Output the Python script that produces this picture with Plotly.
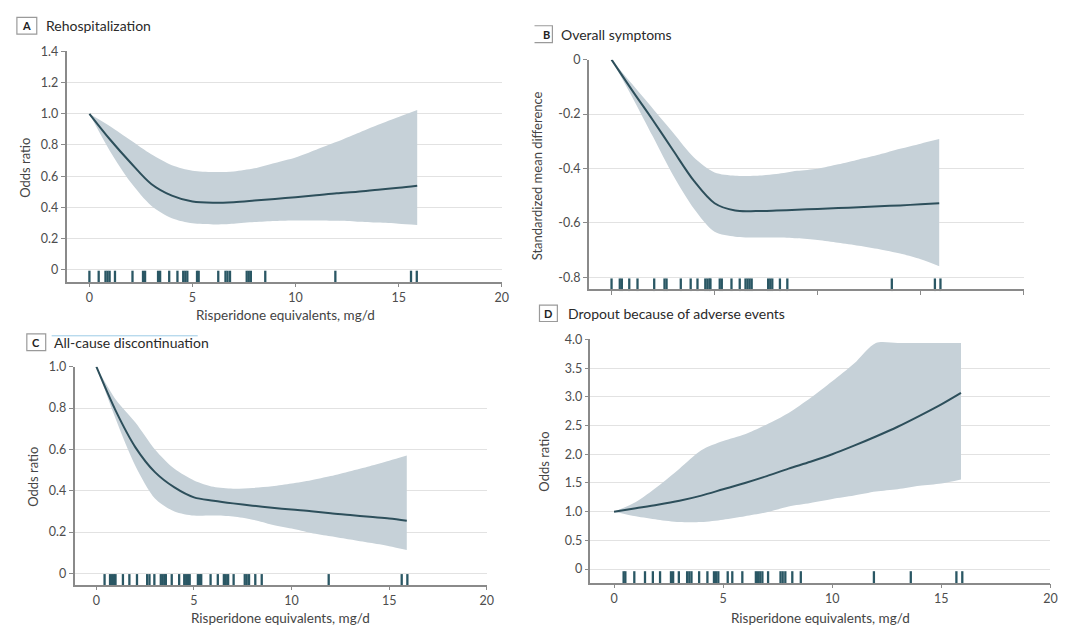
import plotly.graph_objects as go

W, H = 1080, 634

# ---------------- data ----------------
dose = [0, 1, 2, 3, 4, 5, 6, 7, 8, 9, 10, 11, 12, 13, 14, 15, 15.9]

rehosp_or = [1.0, 0.835, 0.686, 0.55, 0.475, 0.437, 0.429, 0.433, 0.443, 0.454, 0.465, 0.477, 0.49, 0.50, 0.513, 0.525, 0.538]
rehosp_hi = [1.0, 0.92, 0.83, 0.74, 0.67, 0.635, 0.627, 0.63, 0.65, 0.685, 0.72, 0.77, 0.82, 0.875, 0.93, 0.98, 1.025]
rehosp_lo = [1.0, 0.76, 0.56, 0.41, 0.33, 0.297, 0.29, 0.295, 0.305, 0.312, 0.315, 0.315, 0.313, 0.308, 0.302, 0.295, 0.287]

symp_smd = [0, -0.113, -0.222, -0.335, -0.446, -0.528, -0.555, -0.557, -0.555, -0.552, -0.549, -0.546, -0.543, -0.539, -0.536, -0.532, -0.528]
symp_hi = [0, -0.09, -0.18, -0.27, -0.36, -0.415, -0.427, -0.427, -0.421, -0.409, -0.401, -0.385, -0.367, -0.349, -0.328, -0.309, -0.292]
symp_lo = [0, -0.137, -0.282, -0.427, -0.548, -0.633, -0.651, -0.654, -0.654, -0.657, -0.663, -0.673, -0.684, -0.697, -0.713, -0.734, -0.760]

disc_or = [1.0, 0.785, 0.61, 0.49, 0.416, 0.368, 0.352, 0.339, 0.328, 0.318, 0.309, 0.301, 0.291, 0.283, 0.274, 0.266, 0.255]
disc_hi = [1.0, 0.84, 0.73, 0.60, 0.506, 0.45, 0.419, 0.41, 0.414, 0.422, 0.435, 0.451, 0.471, 0.495, 0.519, 0.545, 0.570]
disc_lo = [1.0, 0.745, 0.52, 0.363, 0.30, 0.28, 0.28, 0.275, 0.26, 0.236, 0.217, 0.196, 0.18, 0.164, 0.148, 0.132, 0.113]

ae_or = [1.0, 1.06, 1.12, 1.19, 1.28, 1.39, 1.50, 1.62, 1.75, 1.87, 2.0, 2.15, 2.31, 2.48, 2.67, 2.87, 3.07]
ae_hi = [1.0, 1.17, 1.44, 1.75, 2.07, 2.23, 2.35, 2.52, 2.72, 2.98, 3.27, 3.58, 3.94, 3.94, 3.94, 3.94, 3.94]
ae_lo = [1.0, 0.92, 0.86, 0.82, 0.82, 0.86, 0.92, 0.99, 1.09, 1.15, 1.22, 1.28, 1.35, 1.39, 1.45, 1.49, 1.56]

rug_A = [0, 0.45, 0.78, 0.88, 0.98, 1.24, 2.09, 2.6, 2.7, 3.33, 3.43, 3.87, 4.27, 4.55, 4.65, 4.75,
         5.22, 5.3, 6.25, 6.6, 6.7, 6.82, 7.63, 7.73, 7.83, 8.53, 11.93, 15.6, 15.88]
rug_B = [0, 0.4, 0.5, 0.86, 1.26, 2.07, 2.57, 2.67, 3.36, 3.84, 4.17, 4.55, 4.65, 4.75, 4.8, 5.25, 5.35,
         5.82, 6.22, 6.5, 6.6, 6.7, 6.8, 7.6, 7.7, 7.8, 8.17, 8.53, 13.6, 15.69, 15.96]
rug_C = [0.42, 0.7, 0.8, 0.9, 0.98, 1.36, 1.69, 2.08, 2.6, 2.72, 2.97, 3.3, 3.4, 3.5, 3.56, 3.86, 4.24,
         4.5, 4.6, 4.7, 4.78, 5.2, 5.3, 5.37, 5.85, 6.22, 6.53, 6.63, 6.75, 7.03, 7.6, 7.7, 7.82, 8.14,
         8.47, 11.9, 15.64, 15.93]
rug_D = [0.44, 0.52, 0.93, 1.42, 1.78, 2.11, 2.61, 2.71, 2.97, 3.35, 3.45, 3.55, 3.9, 4.28, 4.58, 4.68,
         4.78, 5.21, 5.42, 5.88, 6.5, 6.6, 6.7, 6.8, 7.06, 7.63, 7.73, 7.85, 8.17, 8.56, 11.91, 13.6,
         15.69, 15.96]

x_ticks = [0, 5, 10, 15, 20]
x_ticktext = ["0", "5", "10", "15", "20"]
yA_ticks = [0, 0.2, 0.4, 0.6, 0.8, 1.0, 1.2, 1.4]
yA_text = ["0", "0.2", "0.4", "0.6", "0.8", "1.0", "1.2", "1.4"]
yB_ticks = [0, -0.2, -0.4, -0.6, -0.8]
yB_text = ["0", "-0.2", "-0.4", "-0.6", "-0.8"]
yC_ticks = [0, 0.2, 0.4, 0.6, 0.8, 1.0]
yC_text = ["0", "0.2", "0.4", "0.6", "0.8", "1.0"]
yD_ticks = [0, 0.5, 1.0, 1.5, 2.0, 2.5, 3.0, 3.5, 4.0]
yD_text = ["0", "0.5", "1.0", "1.5", "2.0", "2.5", "3.0", "3.5", "4.0"]

titles = ["Rehospitalization", "Overall symptoms", "All-cause discontinuation", "Dropout because of adverse events"]
letters = ["A", "B", "C", "D"]
x_title = "Risperidone equivalents, mg/d"
y_titles = ["Odds ratio", "Standardized mean difference", "Odds ratio", "Odds ratio"]

# ---------------- style ----------------
FONT = "Lato"
LINE_C = "#2d4f5b"
BAND_C = "#c6d1d8"
RUG_C = "#2a5764"
AXIS_C = "#8a8a8a"
GRID_C = "#e2e2e2"
TICK_FONT = dict(family=FONT, size=12.5, color="#4d4d4d")


def px(x):
    return x / W


def py(y):
    return 1 - y / H


panels = [
    dict(xd=(67, 505), yd=(44, 277), xr=(-1.108, 20), yr=(-0.076, 1.4), yt=yA_ticks, ytt=yA_text,
         mean=rehosp_or, hi=rehosp_hi, lo=rehosp_lo, rug=rug_A, base=0, xlabels=True),
    dict(xd=(592.5, 1030.4), yd=(52.3, 285), xr=(-1.11, 20), yr=(-0.845, 0), yt=yB_ticks, ytt=yB_text,
         mean=symp_smd, hi=symp_hi, lo=symp_lo, rug=rug_B, base=-0.8, xlabels=False),
    dict(xd=(75, 490), yd=(363.3, 584), xr=(-1.12, 20), yr=(-0.054, 1.0), yt=yC_ticks, ytt=yC_text,
         mean=disc_or, hi=disc_hi, lo=disc_lo, rug=rug_C, base=0, xlabels=True),
    dict(xd=(594.3, 1057.3), yd=(335.7, 582), xr=(-1.08, 20), yr=(-0.236, 4.0), yt=yD_ticks, ytt=yD_text,
         mean=ae_or, hi=ae_hi, lo=ae_lo, rug=rug_D, base=0, xlabels=True),
]

fig = go.Figure()
layout = dict(width=W, height=H, margin=dict(l=0, r=0, t=0, b=0),
              paper_bgcolor="white", plot_bgcolor="white", showlegend=False)

for i, p in enumerate(panels):
    k = "" if i == 0 else str(i + 1)
    xa, ya = "x" + k, "y" + k
    fig.add_trace(go.Scatter(
        x=dose, y=p["lo"], xaxis=xa, yaxis=ya, mode="lines",
        line=dict(width=0, color=BAND_C, shape="spline", smoothing=0.8), hoverinfo="skip"))
    fig.add_trace(go.Scatter(
        x=dose, y=p["hi"], xaxis=xa, yaxis=ya, mode="lines", fill="tonexty", fillcolor=BAND_C,
        line=dict(width=0, color=BAND_C, shape="spline", smoothing=0.8), hoverinfo="skip"))
    fig.add_trace(go.Scatter(
        x=dose, y=p["mean"], xaxis=xa, yaxis=ya, mode="lines",
        line=dict(color=LINE_C, width=2, shape="spline", smoothing=0.9)))
    rug_y = p["base"] + 0.62 * (p["yr"][0] - p["base"])
    fig.add_trace(go.Scatter(
        x=p["rug"], y=[rug_y] * len(p["rug"]), xaxis=xa, yaxis=ya, mode="markers",
        marker=dict(symbol="line-ns", size=9, line=dict(width=2.3, color=RUG_C)),
        cliponaxis=False))

    layout["xaxis" + k] = dict(
        domain=[px(p["xd"][0]), px(p["xd"][1])], range=list(p["xr"]), anchor=ya,
        tickvals=x_ticks, ticktext=x_ticktext, showticklabels=p["xlabels"],
        ticks="outside", ticklen=4, tickwidth=1.3, tickcolor=AXIS_C,
        showline=True, linecolor=AXIS_C, linewidth=1.5, showgrid=False, zeroline=False,
        tickfont=TICK_FONT, fixedrange=True)
    layout["yaxis" + k] = dict(
        domain=[py(p["yd"][1]), py(p["yd"][0])], range=list(p["yr"]), anchor=xa,
        tickvals=p["yt"], ticktext=p["ytt"],
        ticks="outside", ticklen=4, tickwidth=1.3, tickcolor=AXIS_C,
        showline=True, linecolor=AXIS_C, linewidth=1.5, showgrid=True, gridcolor=GRID_C,
        gridwidth=1.2, zeroline=False, tickfont=TICK_FONT, fixedrange=True)

annotations = []
shapes = []

title_pos = [  # (box x0, box x1, box y0, box y1, text x, text y)
    (17, 37, 9.5, 26.5, 44, 17.5),
    (538, 556, 18, 35, 563, 26.5),
    (27, 46, 330, 347, 52, 338.5),
    (543, 561, 301, 317.5, 570, 309.5),
]
for i, (bx0, bx1, by0, by1, tx, ty) in enumerate(title_pos):
    if i == 1:
        shapes.append(dict(type="path", xref="paper", yref="paper",
                           path=f"M {px(bx0)},{py(by0)} L {px(bx1)},{py(by0)} L {px(bx1)},{py(by1)} L {px(bx0)},{py(by1)}",
                           line=dict(color="#9a9a9a", width=1.2)))
    else:
        shapes.append(dict(type="rect", xref="paper", yref="paper",
                           x0=px(bx0), x1=px(bx1), y0=py(by1), y1=py(by0),
                           line=dict(color="#9a9a9a", width=1.2), fillcolor="white"))
    annotations.append(dict(text="<b>" + letters[i] + "</b>", xref="paper", yref="paper",
                            x=px((bx0 + bx1) / 2 + (3 if i == 1 else 0)), y=py((by0 + by1) / 2),
                            showarrow=False, xanchor="center", yanchor="middle",
                            font=dict(family=FONT, size=11, color="#222222")))
    annotations.append(dict(text=titles[i], xref="paper", yref="paper", x=px(tx), y=py(ty),
                            showarrow=False, xanchor="left", yanchor="middle",
                            font=dict(family=FONT, size=14, color="#2a2a2a")))

shapes.append(dict(type="line", xref="paper", yref="paper", x0=px(52), x1=px(199),
                   y0=py(332), y1=py(332), line=dict(color="#9ccbe6", width=1)))

x_title_pos = [(287, 311), (826, 618), (282, 618)]
for (cx, cy) in x_title_pos:
    annotations.append(dict(text=x_title, xref="paper", yref="paper", x=px(cx), y=py(cy),
                            showarrow=False, xanchor="center", yanchor="middle",
                            font=dict(family=FONT, size=13.5, color="#444444")))
y_title_pos = [(25, 162), (540, 170), (33, 475), (548, 459)]
for i, (cx, cy) in enumerate(y_title_pos):
    annotations.append(dict(text=y_titles[i], xref="paper", yref="paper", x=px(cx), y=py(cy),
                            showarrow=False, xanchor="center", yanchor="middle", textangle=-90,
                            font=dict(family=FONT, size=13, color="#444444")))

layout["annotations"] = annotations
layout["shapes"] = shapes
fig.update_layout(**layout)
fig.write_html("out.html")
